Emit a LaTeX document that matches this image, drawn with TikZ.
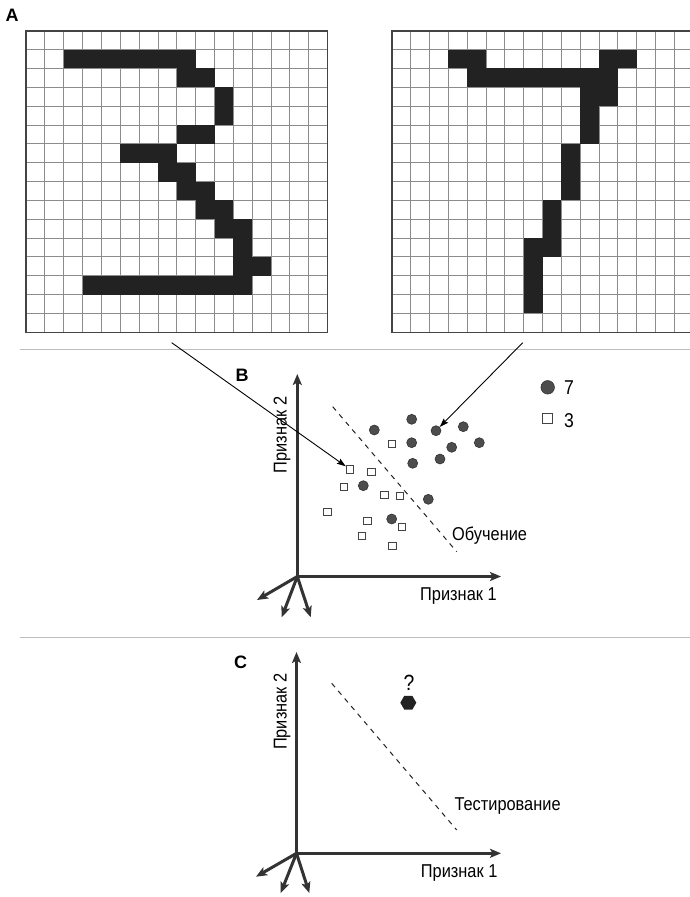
\documentclass[tikz,border=0pt]{standalone}
\usepackage{fontspec}
\setmainfont{Liberation Sans}[FakeStretch=0.88]
\newfontfamily\panelface{Liberation Sans}
\usetikzlibrary{arrows.meta,shapes.geometric}
\definecolor{inkdark}{HTML}{222222}
\definecolor{axisgray}{HTML}{333333}
\definecolor{gridgray}{HTML}{8C8C8C}
\definecolor{framegray}{HTML}{444444}
\definecolor{dotgray}{HTML}{4D4D4D}
\definecolor{rulegray}{HTML}{BDBDBD}
\newcommand{\cellsz}{18.85}
\newcommand{\labelfont}{\fontsize{18.6}{20}\selectfont}
\newcommand{\panelfont}{\panelface\fontsize{18}{20}\selectfont\bfseries}

\tikzset{
  gridline/.style={gridgray, line width=0.9pt},
  gridframe/.style={framegray, line width=1.6pt},
  blackcell/.style={fill=inkdark},
  feataxis/.style={axisgray, line width=3pt, -{Stealth[length=11pt,width=9pt,inset=2.5pt]}},
  pointer/.style={black, line width=0.9pt, -{Stealth[length=9pt,width=6pt,inset=1.5pt]}},
  splitline/.style={inkdark, line width=1pt, dash pattern=on 5pt off 5pt},
  dotseven/.style={circle, fill=dotgray, draw=axisgray, line width=0.6pt, minimum size=10pt, inner sep=0pt},
  boxthree/.style={rectangle, fill=white, draw=framegray, line width=0.9pt, minimum size=7.5pt, inner sep=0pt},
  axlabel/.style={inner sep=0pt, font=\labelfont},
  panel/.style={inner sep=0pt, anchor=base west, font=\panelfont},
}

\begin{document}
\begin{tikzpicture}[x=1pt, y=-1pt]
  \clip (0,0) rectangle (690,897);

  % panel A: the two digit grids
  \node[panel] (labA) at (5.5,21) {A};
  \begin{scope}[shift={(26,30.7)}]
    \foreach \i in {1,...,15} {
      \draw[gridline] (\i*\cellsz,0) -- (\i*\cellsz,16*\cellsz);
      \draw[gridline] (0,\i*\cellsz) -- (16*\cellsz,\i*\cellsz);
    }
    \foreach \c/\r in {2/1,3/1,4/1,5/1,6/1,7/1,8/1, 8/2,9/2, 10/3, 10/4, 8/5,9/5,
        5/6,6/6,7/6, 7/7,8/7, 8/8,9/8, 9/9,10/9, 10/10,11/10, 11/11, 11/12,12/12,
        3/13,4/13,5/13,6/13,7/13,8/13,9/13,10/13,11/13}
      \fill[blackcell] (\c*\cellsz,\r*\cellsz) rectangle ++(\cellsz,\cellsz);
    \draw[gridframe] (0,0) rectangle (16*\cellsz,16*\cellsz);
  \end{scope}
  \begin{scope}[shift={(391.7,30.7)}]
    \foreach \i in {1,...,15} {
      \draw[gridline] (\i*\cellsz,0) -- (\i*\cellsz,16*\cellsz);
      \draw[gridline] (0,\i*\cellsz) -- (16*\cellsz,\i*\cellsz);
    }
    \foreach \c/\r in {3/1,4/1,11/1,12/1, 4/2,5/2,6/2,7/2,8/2,9/2,10/2,11/2, 10/3,11/3,
        10/4, 10/5, 9/6, 9/7, 9/8, 8/9, 8/10, 7/11,8/11, 7/12, 7/13, 7/14}
      \fill[blackcell] (\c*\cellsz,\r*\cellsz) rectangle ++(\cellsz,\cellsz);
    \draw[gridframe] (0,0) rectangle (16*\cellsz,16*\cellsz);
  \end{scope}
  \coordinate (threetail) at (171.7,342.7);
  \coordinate (seventail) at (522.7,342.7);

  \draw[rulegray, line width=1pt] (20,349.3) -- (690,349.3);
  \draw[rulegray, line width=1pt] (20,637) -- (690,637);

  % panel B: training
  \node[panel] (labB) at (235.5,381) {B};
  \coordinate (oB) at (297.3,576.5);
  \draw[feataxis] (oB) -- (297.3,374);
  \draw[feataxis] (oB) -- (501,576.5);
  \draw[feataxis] (oB) -- (257,600);
  \draw[feataxis] (oB) -- (281.7,617.3);
  \draw[feataxis] (oB) -- (310.7,617.3);
  \node[axlabel, anchor=base west] (f1B) at (420,600.7) {Признак 1};
  \node[axlabel, anchor=base, rotate=90] (f2B) at (286.7,435) {Признак 2};
  \draw[splitline] (332.7,406.7) -- (456.7,551.7);
  \node[axlabel, anchor=base west] (train) at (452,540) {Обучение};

  \foreach \n/\px/\py in {1/411.7/419.3, 2/374.3/430, 3/436/430.7, 4/463.3/426.7,
      5/411.7/442.7, 6/451.7/447.3, 7/479.3/442.7, 8/412.7/463.3, 9/440/459,
      10/363.3/485.7, 11/428.3/499.3, 12/391.7/519}
    \node[dotseven] (c\n) at (\px,\py) {};
  \foreach \n/\px/\py in {1/392/444, 2/350/469.3, 3/371.3/471.7, 4/344/487,
      5/384.3/494.7, 6/400/496, 7/327.3/512, 8/367.3/520.7, 9/401.7/526.7,
      10/362/535.7, 11/392.3/546}
    \node[boxthree] (s\n) at (\px,\py) {};

  \node[dotseven, minimum size=13.5pt] (keyseven) at (547.7,387.3) {};
  \node[axlabel, font=\fontsize{20}{22}\selectfont, anchor=base west] (keysevent) at (564,394.5) {7};
  \node[boxthree, minimum size=10pt] (keythree) at (547.7,418.3) {};
  \node[axlabel, font=\fontsize{20}{22}\selectfont, anchor=base west] (keythreet) at (564,427) {3};

  \draw[pointer] (threetail) -- (s2);
  \draw[pointer] (seventail) -- (c3);

  % panel C: testing
  \node[panel] (labC) at (234,668.5) {C};
  \coordinate (oC) at (296.5,853.3);
  \draw[feataxis] (oC) -- (296.5,652);
  \draw[feataxis] (oC) -- (501,853.3);
  \draw[feataxis] (oC) -- (256,876.7);
  \draw[feataxis] (oC) -- (280.7,893);
  \draw[feataxis] (oC) -- (309.3,893);
  \node[axlabel, anchor=base west] (f1C) at (420.7,877.3) {Признак 1};
  \node[axlabel, anchor=base, rotate=90] (f2C) at (286.7,711.7) {Признак 2};
  \draw[splitline] (331.7,683.3) -- (456.7,830);
  \node[axlabel, anchor=base west] (test) at (454.3,810.7) {Тестирование};
  \node[regular polygon, regular polygon sides=6, fill=inkdark, inner sep=0pt,
    minimum size=16pt] (query) at (408.3,702.7) {};
  \node[axlabel, anchor=base, font=\fontsize{22}{24}\selectfont] (qmark) at (409,690) {?};
\end{tikzpicture}
\end{document}
